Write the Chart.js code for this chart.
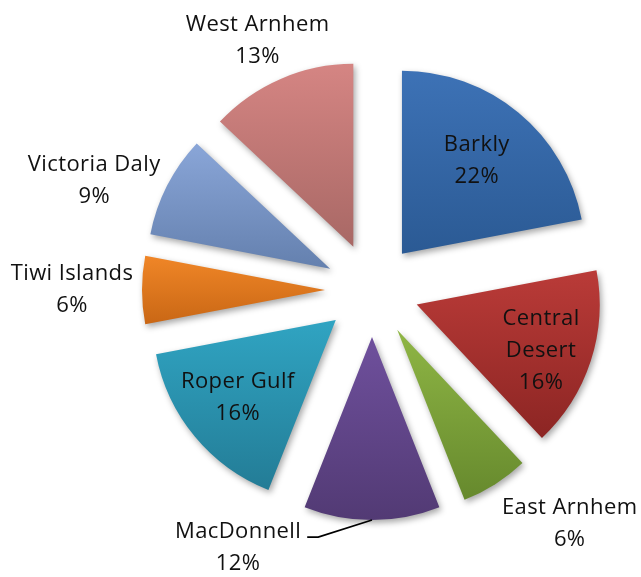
<!DOCTYPE html>
<html lang="en">
<head>
<meta charset="UTF-8">
<title>Regional share</title>
<script src="https://cdn.jsdelivr.net/npm/chart.js"></script>
<style>
  html, body { margin: 0; padding: 0; background: #fff; }
  canvas { display: block; }
</style>
</head>
<body>
<canvas id="pie" width="641" height="577"></canvas>
<script>
// regions, clockwise from 12 o'clock
const regions = ['Barkly', ['Central', 'Desert'], 'East Arnhem', 'MacDonnell', 'Roper Gulf', 'Tiwi Islands', 'Victoria Daly', 'West Arnhem'];
const shares = [22, 16, 6, 12, 16, 6, 9, 13];

// each slice fades from its top colour to its bottom colour
const topColors = ['#3d72b6', '#ba3b38', '#8fb645', '#6f509d', '#30a4c2', '#f08627', '#8aa6d8', '#d58583'];
const bottomColors = ['#2b5a94', '#8c2523', '#66892d', '#523a74', '#237c96', '#c96715', '#6480ae', '#a86865'];

// label block: distance from pie centre, angle nudge in degrees
const labelSpots = [
  { r: 168, da: -1 },
  { r: 179, da: 1.2 },
  { r: 305, da: -8 },
  { r: 289, da: 27.6, leader: true },
  { r: 171, da: 1.3 },
  { r: 300, da: 0.3 },
  { r: 299, da: -5.3 },
  { r: 276, da: -1.1 }
];

const EXPLODE = 47;
const FONT = '22px "Open Sans"';
const LINE = 32;
const CAP = 7.8;

function verticalExtent(arc) {
  const R = arc.outerRadius;
  const s = arc.startAngle, e = arc.endAngle;
  const ys = [arc.y, arc.y + R * Math.sin(s), arc.y + R * Math.sin(e)];
  [-Math.PI / 2, Math.PI / 2, 3 * Math.PI / 2].forEach(k => {
    if (k >= s && k <= e) ys.push(arc.y + R * Math.sin(k));
  });
  return [Math.min(...ys), Math.max(...ys)];
}

// pulls every slice away from the centre and paints it with a gradient + soft shadow
const explodedSlices = {
  id: 'explodedSlices',
  beforeDatasetDraw(chart, args) {
    const ctx = chart.ctx;
    args.meta.data.forEach((arc, i) => {
      const mid = (arc.startAngle + arc.endAngle) / 2;
      const [top, bottom] = verticalExtent(arc);
      const grad = ctx.createLinearGradient(0, top, 0, bottom);
      grad.addColorStop(0, topColors[i]);
      grad.addColorStop(1, bottomColors[i]);
      ctx.save();
      ctx.translate(Math.cos(mid) * EXPLODE, Math.sin(mid) * EXPLODE);
      ctx.shadowColor = 'rgba(0,0,0,0.35)';
      ctx.shadowBlur = 6;
      ctx.shadowOffsetX = 2;
      ctx.shadowOffsetY = 3;
      const saved = arc.options;
      arc.options = Object.assign({}, saved, { backgroundColor: grad, borderWidth: 0 });
      arc.draw(ctx);
      arc.options = saved;
      ctx.restore();
    });
    return false;
  }
};

// category name + percentage for each slice
const sliceLabels = {
  id: 'sliceLabels',
  afterDatasetsDraw(chart) {
    const ctx = chart.ctx;
    const meta = chart.getDatasetMeta(0);
    const total = shares.reduce((a, b) => a + b, 0);
    ctx.save();
    ctx.font = FONT;
    ctx.letterSpacing = '0.4px';
    ctx.fillStyle = '#111';
    ctx.textAlign = 'center';
    ctx.textBaseline = 'alphabetic';
    meta.data.forEach((arc, i) => {
      const spot = labelSpots[i];
      const a = (arc.startAngle + arc.endAngle) / 2 + spot.da * Math.PI / 180;
      const x = arc.x + Math.cos(a) * spot.r;
      const y = arc.y + Math.sin(a) * spot.r;
      const lines = [].concat(regions[i], Math.round(shares[i] / total * 100) + '%');
      const y0 = y - (lines.length - 1) / 2 * LINE;
      lines.forEach((t, k) => ctx.fillText(t, x, y0 + k * LINE + CAP));

      if (spot.leader) {
        const mid = (arc.startAngle + arc.endAngle) / 2;
        const reach = arc.outerRadius + EXPLODE;
        const right = x + ctx.measureText(lines[0]).width / 2;
        ctx.beginPath();
        ctx.moveTo(arc.x + Math.cos(mid) * reach, arc.y + Math.sin(mid) * reach);
        ctx.lineTo(right + 17, y0 + 7);
        ctx.lineTo(right + 6, y0 + 7);
        ctx.lineWidth = 1.8;
        ctx.strokeStyle = '#000';
        ctx.stroke();
      }
    });
    ctx.restore();
  }
};

new Chart(document.getElementById('pie').getContext('2d'), {
  type: 'pie',
  data: {
    labels: regions,
    datasets: [{
      data: shares,
      backgroundColor: topColors,
      borderWidth: 0
    }]
  },
  options: {
    responsive: false,
    animation: false,
    radius: 183,
    layout: { padding: { left: 103, top: 3 } },
    plugins: {
      legend: { display: false },
      tooltip: { enabled: false }
    }
  },
  plugins: [explodedSlices, sliceLabels]
});
</script>
</body>
</html>
